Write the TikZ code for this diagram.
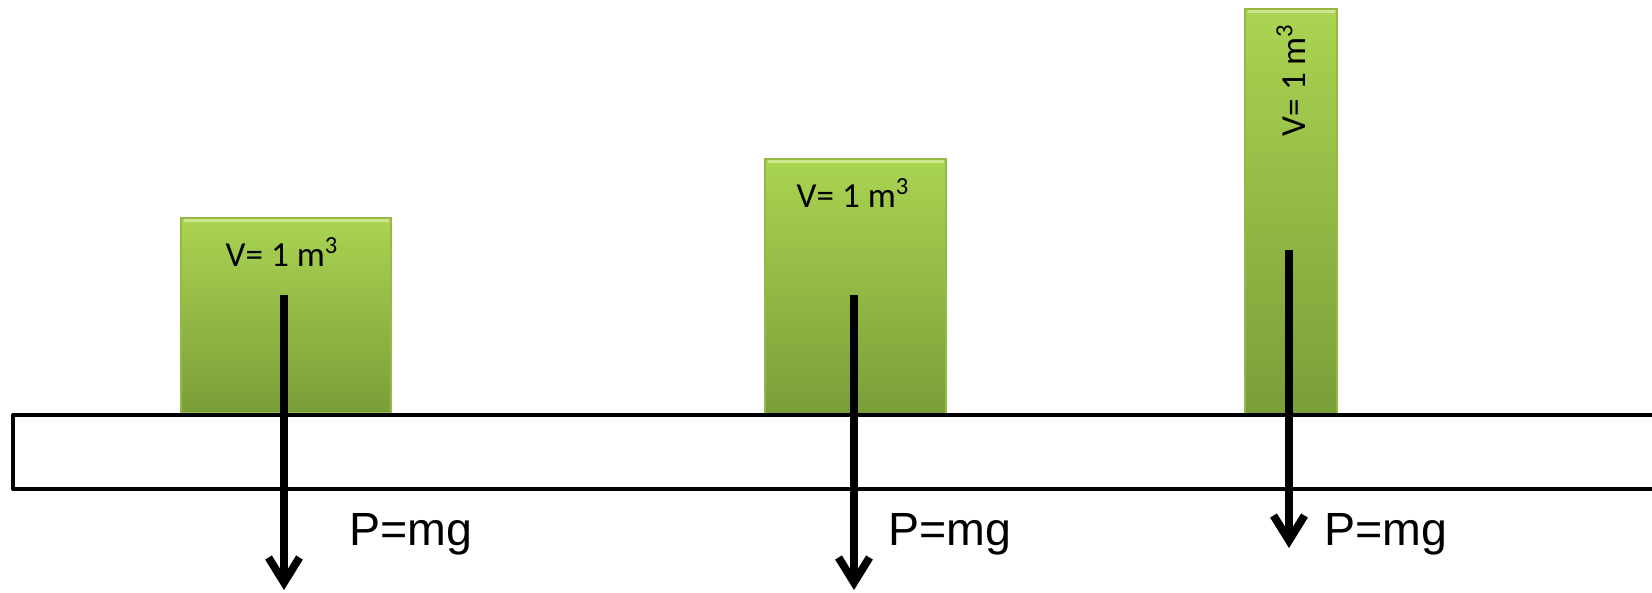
\documentclass[tikz,border=0pt]{standalone}
\usepackage{fontspec}
\setmainfont{Liberation Sans}
\newfontfamily\volfont{Carlito}
\usepackage{xcolor}
\usepackage{tikz}
\usetikzlibrary{arrows.meta}

\definecolor{boxtop}{RGB}{170,212,82}
\definecolor{boxbot}{RGB}{122,158,56}
\definecolor{boxedge}{RGB}{150,185,70}
\definecolor{boxlight}{RGB}{205,232,140}

\begin{document}
\begin{tikzpicture}[
  x=0.02cm, y=-0.02cm,
  block/.style={
    rectangle, inner sep=0pt, anchor=south west,
    top color=boxtop, bottom color=boxbot, draw=boxedge, line width=1.2pt
  },
  rim/.style={draw=boxlight, line width=2pt},
  vol/.style={font=\volfont\fontsize{20}{24}\selectfont, inner sep=0pt},
  weight/.style={font=\fontsize{26.5}{30}\selectfont, inner sep=0pt, anchor=base west},
  board/.style={line width=2.3pt, line join=round},
  force/.style={-{Straight Barb[length=0.5cm, width=0.62cm]}, line width=4.5pt},
]

\fill[white] (0,0) rectangle (1652,592);
\useasboundingbox (0,0) rectangle (1652,592);
\clip (0,0) rectangle (1652,592);

%% ── Blocks ───────────────────────────────────────────────────────────────────
\node[block, minimum width=4.2cm,  minimum height=3.9cm]  (cube)  at (180,414)  {};
\node[block, minimum width=3.62cm, minimum height=5.1cm]  (tall)  at (764,415)  {};
\node[block, minimum width=1.84cm, minimum height=8.12cm] (stick) at (1244,416) {};

% light bevel along the top edges
\draw[rim] ([xshift=2pt,yshift=-2pt]cube.north west)  -- ([xshift=-2pt,yshift=-2pt]cube.north east);
\draw[rim] ([xshift=2pt,yshift=-2pt]tall.north west)  -- ([xshift=-2pt,yshift=-2pt]tall.north east);
\draw[rim] ([xshift=2pt,yshift=-2pt]stick.north west) -- ([xshift=-2pt,yshift=-2pt]stick.north east);

%% ── Volume labels ───────────────────────────────────────────────────────────
\node[vol]             (volA) at (282,252)  {V= 1 m\textsuperscript{3}};
\node[vol]             (volB) at (853,193)  {V= 1 m\textsuperscript{3}};
\node[vol, rotate=90]  (volC) at (1291,80)  {V= 1 m\textsuperscript{3}};

%% ── Board ───────────────────────────────────────────────────────────────────
\draw[board] (1700,415) -- (13,415) -- (13,489) -- (1700,489);

%% ── Weights ─────────────────────────────────────────────────────────────────
\coordinate (gA)    at (284,295);
\coordinate (gAend) at (284,590);
\coordinate (gB)    at (854,295);
\coordinate (gBend) at (854,590);
\coordinate (gC)    at (1289,250);
\coordinate (gCend) at (1289,548);

\draw[force] (gA) -- (gAend);
\draw[force] (gB) -- (gBend);
\draw[force] (gC) -- (gCend);

\node[weight] (pA) at (349,545)  {P=mg};
\node[weight] (pB) at (888,545)  {P=mg};
\node[weight] (pC) at (1324,545) {P=mg};

\end{tikzpicture}
\end{document}
